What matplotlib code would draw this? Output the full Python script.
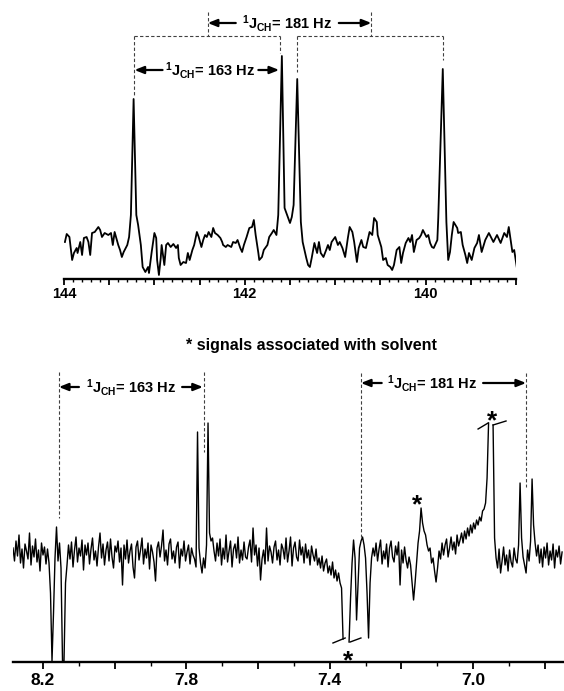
import numpy as np
import matplotlib
matplotlib.use('Agg')
import matplotlib.pyplot as plt
from matplotlib.ticker import MultipleLocator, FixedLocator, FixedFormatter

plt.rcParams['font.family'] = ['Liberation Sans', 'DejaVu Sans']
plt.rcParams['mathtext.fontset'] = 'custom'
plt.rcParams['mathtext.rm'] = 'Liberation Sans:bold'
plt.rcParams['mathtext.it'] = 'Liberation Sans:bold'
plt.rcParams['mathtext.bf'] = 'Liberation Sans:bold'
plt.rcParams['mathtext.default'] = 'rm'

# ---------------- data: top (13C) spectrum ----------------
top_ppm = [143.99, 143.97, 143.94, 143.91, 143.89, 143.86, 143.85, 143.82, 143.80, 143.78,
           143.75, 143.73, 143.71, 143.69, 143.66, 143.62, 143.60, 143.58, 143.55, 143.51,
           143.48, 143.46, 143.44, 143.40, 143.38, 143.36, 143.34, 143.30, 143.28, 143.26,
           143.23, 143.20, 143.18, 143.15, 143.13, 143.10, 143.07, 143.06, 143.03, 143.00,
           142.98, 142.97, 142.95, 142.93, 142.92, 142.89, 142.87, 142.85, 142.82, 142.79,
           142.76, 142.74, 142.73, 142.71, 142.68, 142.65, 142.63, 142.61, 142.58, 142.56,
           142.53, 142.51, 142.48, 142.46, 142.44, 142.42, 142.40, 142.37, 142.35, 142.33,
           142.30, 142.27, 142.25, 142.24, 142.21, 142.19, 142.15, 142.13, 142.10, 142.08,
           142.05, 142.03, 142.01, 141.98, 141.95, 141.92, 141.90, 141.88, 141.85, 141.84,
           141.81, 141.79, 141.75, 141.73, 141.70, 141.68, 141.65, 141.63, 141.59, 141.56,
           141.52, 141.50, 141.48, 141.46, 141.42, 141.38, 141.36, 141.32, 141.30, 141.28,
           141.26, 141.23, 141.20, 141.18, 141.16, 141.13, 141.10, 141.08, 141.06, 141.04,
           141.00, 140.97, 140.95, 140.92, 140.89, 140.86, 140.84, 140.81, 140.79, 140.76,
           140.74, 140.71, 140.69, 140.66, 140.64, 140.62, 140.59, 140.57, 140.54, 140.53,
           140.49, 140.47, 140.44, 140.42, 140.39, 140.37, 140.35, 140.32, 140.29, 140.27,
           140.25, 140.22, 140.19, 140.17, 140.15, 140.13, 140.10, 140.07, 140.05, 140.03,
           139.99, 139.97, 139.95, 139.93, 139.91, 139.87, 139.86, 139.81, 139.77, 139.76,
           139.75, 139.73, 139.71, 139.69, 139.65, 139.64, 139.61, 139.59, 139.56, 139.54,
           139.52, 139.49, 139.46, 139.43, 139.41, 139.38, 139.34, 139.30, 139.25, 139.21,
           139.17, 139.13, 139.10, 139.08, 139.04, 139.02, 138.99]
top_int = [3, 11, 8, -15, -8, -3, -8, 3, -10, 7,
           8, 3, -10, 12, 13, 18, 15, 8, 12, 10,
           12, 0, 13, 0, -5, -12, -7, 0, 8, 30,
           146, 30, 20, 0, -22, -27, -22, -28, -7, 12,
           7, -15, -30, -13, 0, -20, 0, 2, -2, 1,
           -3, 0, -13, -20, -17, -18, -8, -15, -5, 0,
           13, 8, -2, 5, 10, 8, 13, 8, 17, 12,
           10, 7, 3, 0, -2, 0, -2, 3, 2, 5,
           -3, -7, 0, 8, 17, 18, 25, 10, -8, -15,
           -12, -5, 0, 8, 12, 15, 10, 30, 189, 37,
           27, 22, 28, 40, 166, 23, 3, -13, -20, -22,
           -13, 2, -8, 3, -8, -12, -5, 0, -5, 3,
           8, 0, 3, -3, -12, 7, 18, 13, 3, -17,
           -3, 5, -2, -3, 5, 13, 10, 27, 23, 10,
           -2, -15, -13, -20, -22, -25, -20, -5, -2, -18,
           -8, 2, 7, 3, 10, -7, 5, 7, 10, 15,
           8, 10, 2, -2, -3, 5, 27, 176, 23, 3,
           -15, -7, 10, 23, 17, 12, 13, 0, -10, -18,
           -8, -15, -3, 2, 10, -7, 5, 12, 3, 10,
           2, 12, 8, 18, -7, -5, -23]

top_major_ticks = [144, 143.5, 143, 142.5, 142, 141.5, 141, 140.5, 140, 139.5, 139]
top_tick_labels = ['144', '', '', '', '142', '', '', '', '140', '', '']

# ---------------- data: bottom (1H) spectrum ----------------
bottom_start_ppm = 8.284
bottom_step_ppm = 0.004187
nan = np.nan
bottom_int = [
    # 8.28 - 8.18
    5, -8, 12, -3, 18, -10, 4, -15, 9, 2, -6, 20, -12, 7, -4, 14, -9, 3, -18, 10, -2, 6, -11, 4,
    -10, -40, -108, -60, -5, 26, -8, 10, -15, -108, -108, -30, -12, 8,
    # baseline up to 7.77
    -6, 11, -14, 3, 16, -9, 5, -3, 13, -17, 8, -2, 10, -11, 4, 15, -7, 2, -13, 6,
    20, -5, 9, -12, 3, 11, -8, 14, -4, -15, 7, 1, 12, -9, 5, -32, 8, -6, 13, -10,
    2, 9, -14, -25, 6, 12, -7, 3, 15, -11, 4, -5, 10, -16, 8, 1, -9, -28, 5, 11,
    -4, 7, 23, -8, 3, -12, 9, 14, -6, 2, -10, 6, 11, -15, 4, -3, 12, -8, 1, 8, -11, 5, -2, -6,
    # satellite doublet 7.76 / 7.73
    -14, 121, 5, -10, -20, -5, -15, 8, 130, 20, 12, 15, 2,
    # baseline
    -8, 10, -3, 14, -12, 5, -6, 18, -9, 2, 12, -14, 4, 9, -5, 16, -10, 3, -7, 11,
    -4, -6, 6, 13, -9, 25, -2, 8, -13, 5, -27, -6, 3, -11, 25, -8, 7, 1, -10, 6,
    12, -7, 3, -12, 9, 4, -6, 15, -9, 2, 16, -13, 5, 11, -4, -8, 13, -2, 6, -10, 9, -5, 3, -12, 7,
    -2, -8, 4, -12, -5, -15, -3, -18, -10, -6, -20, -13, -22, -9, -25, -17, -28, -20, -30, -35,
    # solvent dip (truncated) and negative lines ~7.35-7.30
    -86, nan, nan, nan, -89, -45, -10, 13, -5, -67, -30, 5, 12, 16, 8, -5, -40, -85, -30, -5, 5,
    -3, 10, -8, 4, 13, -11, 2, -6, 9, -14, 5, 12, -4, -9, 7, -2, 11, -32, 3, -10, 6, -7, -15, -4, -12,
    # solvent line ~7.14
    -30, -47, -30, -10, 10, 22, 45, 30, 22, 18, 8, 2, 5, -10, -5, -18, -29, -15,
    # rising wing of solvent peak
    2, -6, 10, -2, 8, 14, -4, 5, 16, 3, 11, -1, 18, 7, 13, 20,
    10, 22, 14, 25, 17, 28, 20, 30, 24, 33, 28, 36, 32, 42, 44, 50,
    # truncated solvent peak ~6.95
    75, 130, nan, nan, 128, 15,
    -5, -15, 4, -20, -8, 6, -12, -2, -18, 3, -9, -14, 5, -6, -10,
    8, 70, 15, -4,
    -12, -20, 3, -8,
    12, 74, 28, 10,
    -3, 8, -10, 4, -14, 6, -5, 10, -12, 2, -7, 9, -15, 3, -4, 7, -11, 1,
]

bottom_major_ticks = [8.2, 8.0, 7.8, 7.6, 7.4, 7.2, 7.0, 6.8]
bottom_tick_labels = ['8.2', '', '7.8', '', '7.4', '', '7.0', '']

# ---------------- figure ----------------
W, H = 564, 691
fig = plt.figure(figsize=(W / 100, H / 100), dpi=100)

dash = (0, (3, 2))
dcol = '0.25'


def dline(ax, xs, ys):
    ax.plot(xs, ys, ls=dash, lw=0.8, color=dcol, clip_on=False)


def harrow(ax, tail, tip, y):
    ax.annotate('', xy=(tip, y), xytext=(tail, y),
                arrowprops=dict(arrowstyle='-|>,head_length=0.55,head_width=0.22',
                                lw=1.6, color='black', shrinkA=0, shrinkB=0))


jkw = dict(ha='center', va='center', fontsize=10.5, fontweight='bold')

# ---- top panel ----
ax1 = fig.add_axes([64 / W, 1 - 279 / H, 452 / W, 279 / H])
ax1.plot(top_ppm, top_int, color='black', lw=1.3)
ax1.set_xlim(144, 139)
ax1.set_ylim(-34, 245)
for s in ['left', 'right', 'top']:
    ax1.spines[s].set_visible(False)
ax1.spines['bottom'].set_linewidth(1.7)
ax1.set_yticks([])
ax1.xaxis.set_major_locator(FixedLocator(top_major_ticks))
ax1.xaxis.set_major_formatter(FixedFormatter(top_tick_labels))
ax1.xaxis.set_minor_locator(MultipleLocator(0.1))
ax1.tick_params(axis='x', which='major', length=4, width=1.3, pad=1.5,
                labelsize=10.5)
ax1.tick_params(axis='x', which='minor', length=2, width=1.0)
for lab in ax1.get_xticklabels():
    lab.set_fontweight('bold')
ax1.patch.set_alpha(0)

# brackets (top)
dline(ax1, [143.23, 141.61], [209, 209])
dline(ax1, [143.23, 143.23], [209, 150])
dline(ax1, [141.61, 141.61], [209, 192])
dline(ax1, [141.42, 139.81], [209, 209])
dline(ax1, [141.42, 141.42], [209, 173])
dline(ax1, [139.81, 139.81], [209, 185])
dline(ax1, [142.41, 142.41], [233, 209])
dline(ax1, [140.60, 140.60], [233, 209])
harrow(ax1, 142.10, 142.41, 222)
harrow(ax1, 140.96, 140.60, 222)
ax1.text(141.53, 222, r'$^{1}$J$_{CH}$= 181 Hz', **jkw)
harrow(ax1, 142.91, 143.22, 175)
harrow(ax1, 141.85, 141.62, 175)
ax1.text(142.38, 175, r'$^{1}$J$_{CH}$= 163 Hz', **jkw)

# ---- note ----
fig.text(311 / W, 1 - 350 / H, '* signals associated with solvent', ha='center',
         va='baseline', fontsize=11.5, fontweight='bold')

# ---- bottom panel ----
ax2 = fig.add_axes([13 / W, 1 - 662 / H, 550 / W, 300 / H])
bottom_vals = np.array(bottom_int, dtype=float)
bottom_ppm = bottom_start_ppm - bottom_step_ppm * np.arange(len(bottom_vals))
ax2.plot(bottom_ppm, bottom_vals, color='black', lw=1.0)
ax2.set_xlim(8.284, 6.749)
ax2.set_ylim(-109, 191)
for s in ['left', 'right', 'top']:
    ax2.spines[s].set_visible(False)
ax2.spines['bottom'].set_linewidth(1.7)
ax2.set_yticks([])
ax2.xaxis.set_major_locator(FixedLocator(bottom_major_ticks))
ax2.xaxis.set_major_formatter(FixedFormatter(bottom_tick_labels))
ax2.xaxis.set_minor_locator(MultipleLocator(0.1))
ax2.tick_params(axis='x', which='major', length=5, width=1.3, pad=3,
                labelsize=12.5)
ax2.tick_params(axis='x', which='minor', length=3, width=1.0)
for lab in ax2.get_xticklabels():
    lab.set_fontweight('bold')
ax2.patch.set_alpha(0)

# brackets (bottom)
dline(ax2, [8.156, 8.156], [181, 35])
dline(ax2, [7.751, 7.751], [181, 101])
dline(ax2, [7.313, 7.313], [180, 16])
dline(ax2, [6.852, 6.852], [180, 66])
harrow(ax2, 8.100, 8.156, 166)
harrow(ax2, 7.812, 7.754, 166)
ax2.text(7.955, 166, r'$^{1}$J$_{CH}$= 163 Hz', **jkw)
harrow(ax2, 7.255, 7.313, 170)
harrow(ax2, 6.972, 6.852, 170)
ax2.text(7.113, 170, r'$^{1}$J$_{CH}$= 181 Hz', **jkw)

# truncation marks
ax2.plot([6.986, 6.958], [124, 130], color='black', lw=1.0)
ax2.plot([6.944, 6.908], [128, 132], color='black', lw=1.0)
ax2.plot([7.391, 7.357], [-90, -85], color='black', lw=1.0)
ax2.plot([7.343, 7.313], [-89, -85], color='black', lw=1.0)

# solvent stars
skw = dict(ha='center', va='baseline', fontsize=19, fontweight='bold',
           textcoords='offset points', annotation_clip=False)
ax2.annotate('*', xy=(6.947, 140), xytext=(0, -11), **skw)
ax2.annotate('*', xy=(7.156, 56), xytext=(0, -11), **skw)
ax2.annotate('*', xy=(7.349, -100), xytext=(0, -11), **skw)

fig.savefig('out.png', dpi=100)
